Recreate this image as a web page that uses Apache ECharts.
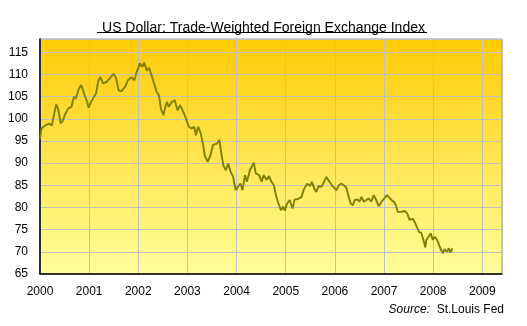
<!DOCTYPE html>
<html>
<head>
<meta charset="utf-8">
<script src="https://cdn.jsdelivr.net/npm/echarts@6/dist/echarts.min.js"></script>
<style>
  html, body { margin: 0; padding: 0; background: #fff; }
  #chart { width: 527px; height: 326px; }
</style>
</head>
<body>
<div id="chart"></div>
<script>
// decimal years
const years = [
  2000.00, 2000.03, 2000.06, 2000.12, 2000.18, 2000.24, 2000.28, 2000.33, 2000.37, 2000.42,
  2000.46, 2000.51, 2000.57, 2000.64, 2000.69, 2000.73, 2000.79, 2000.84, 2000.87, 2000.91,
  2000.96, 2000.99, 2001.04, 2001.10, 2001.14, 2001.19, 2001.23, 2001.28, 2001.35, 2001.42,
  2001.50, 2001.55, 2001.60, 2001.65, 2001.69, 2001.73, 2001.79, 2001.86, 2001.92, 2001.97,
  2002.03, 2002.08, 2002.12, 2002.17, 2002.22, 2002.27, 2002.32, 2002.37, 2002.42, 2002.46,
  2002.51, 2002.54, 2002.58, 2002.62, 2002.68, 2002.74, 2002.80, 2002.85, 2002.89, 2002.93,
  2002.98, 2003.03, 2003.08, 2003.14, 2003.17, 2003.22, 2003.27, 2003.32, 2003.35, 2003.41,
  2003.46, 2003.52, 2003.60, 2003.65, 2003.68, 2003.73, 2003.78, 2003.83, 2003.88, 2003.93,
  2003.98, 2004.03, 2004.08, 2004.12, 2004.17, 2004.21, 2004.27, 2004.31, 2004.35, 2004.39,
  2004.46, 2004.51, 2004.55, 2004.61, 2004.66, 2004.71, 2004.76, 2004.80, 2004.84, 2004.90,
  2004.95, 2004.98, 2005.03, 2005.08, 2005.14, 2005.18, 2005.25, 2005.32, 2005.37, 2005.44,
  2005.49, 2005.53, 2005.58, 2005.62, 2005.67, 2005.73, 2005.78, 2005.83, 2005.86, 2005.89,
  2005.94, 2005.98, 2006.03, 2006.08, 2006.13, 2006.18, 2006.23, 2006.28, 2006.32, 2006.37,
  2006.40, 2006.46, 2006.50, 2006.54, 2006.59, 2006.64, 2006.69, 2006.74, 2006.79, 2006.84,
  2006.89, 2006.95, 2007.00, 2007.06, 2007.10, 2007.15, 2007.20, 2007.24, 2007.28, 2007.35,
  2007.42, 2007.47, 2007.52, 2007.58, 2007.62, 2007.66, 2007.71, 2007.76, 2007.80, 2007.84,
  2007.86, 2007.91, 2007.95, 2007.99, 2008.03, 2008.08, 2008.12, 2008.16, 2008.20, 2008.23,
  2008.28, 2008.32, 2008.35, 2008.39
]

const index = [
  95.5, 97.8, 98.2, 98.6, 98.9, 98.5, 98.3, 103.3, 102.2, 99.0,
  99.5, 101.0, 102.3, 102.7, 105.0, 104.5, 106.8, 107.6, 107.2, 105.3,
  103.8, 102.5, 103.8, 105.0, 105.7, 108.7, 109.4, 108.0, 108.3, 109.1,
  110.2, 109.1, 106.4, 106.2, 106.4, 107.2, 108.7, 109.4, 108.7, 110.6,
  112.5, 111.7, 112.7, 110.9, 111.5, 109.8, 108.0, 106.1, 105.3, 102.3,
  100.8, 102.3, 103.8, 102.7, 103.8, 104.2, 101.9, 103.1, 103.1, 101.2,
  99.7, 98.2, 97.8, 98.2, 96.3, 98.2, 96.7, 94.1, 91.8, 90.3,
  91.5, 94.1, 94.4, 95.3, 92.9, 89.5, 88.4, 89.9, 88.0, 86.9,
  83.9, 84.7, 85.4, 83.9, 87.3, 85.8, 88.4, 88.8, 90.1, 87.7,
  87.3, 85.8, 87.3, 86.2, 87.1, 85.8, 85.0, 82.8, 81.3, 79.4,
  80.2, 79.3, 80.9, 81.7, 79.8, 81.8, 81.9, 82.4, 84.1, 85.4,
  84.8, 85.8, 84.3, 83.5, 84.8, 84.7, 85.8, 86.9, 87.1, 85.8,
  85.0, 84.7, 83.9, 85.0, 85.4, 85.0, 84.5, 82.4, 80.9, 80.5,
  81.7, 81.8, 81.3, 82.4, 81.3, 81.7, 82.0, 81.3, 82.8, 81.7,
  80.3, 81.3, 82.0, 82.8, 82.4, 81.7, 81.3, 80.5, 79.0, 79.0,
  79.2, 78.7, 77.2, 77.5, 76.8, 76.4, 74.5, 74.2, 72.7, 71.0,
  72.7, 73.4, 74.2, 72.7, 73.4, 72.7, 73.0, 70.4, 69.7, 70.6,
  70.0, 70.8, 69.8, 70.8
]

const yTicks = { min: 65, max: 118, step: 5 }
const xTicks = { min: 2000, max: 2009.4, step: 1 }

const chart = echarts.init(document.getElementById('chart'))

chart.setOption({
  animation: false,
  textStyle: { fontFamily: 'Liberation Sans, Arial, sans-serif' },
  title: {
    text: 'US Dollar: Trade-Weighted Foreign Exchange Index',
    left: 'center',
    top: 16,
    textStyle: { fontSize: 14, fontWeight: 'normal', color: '#000' }
  },
  graphic: [
    {
      type: 'line',
      shape: { x1: 97, y1: 32.5, x2: 427, y2: 32.5 },
      style: { stroke: '#000', lineWidth: 1 }
    },
    {
      type: 'text',
      right: 23,
      top: 304,
      style: {
        text: '{i|Source:}  St.Louis Fed',
        fontSize: 12,
        fill: '#000',
        fontFamily: 'Liberation Sans, Arial, sans-serif',
        rich: { i: { fontStyle: 'italic', fontSize: 12 } }
      }
    }
  ],
  grid: {
    left: 40,
    right: 25,
    top: 39,
    bottom: 52,
    show: true,
    borderColor: '#999',
    borderWidth: 1,
    backgroundColor: {
      type: 'linear', x: 0, y: 0, x2: 0, y2: 1,
      colorStops: [
        { offset: 0, color: '#FFCB05' },
        { offset: 1, color: '#FFFF9A' }
      ]
    }
  },
  xAxis: {
    type: 'value',
    min: xTicks.min,
    max: xTicks.max,
    interval: xTicks.step,
    axisLine: { lineStyle: { color: '#000', width: 1.5 } },
    axisTick: { show: false },
    axisLabel: { color: '#000', fontSize: 12, margin: 12, showMaxLabel: false, formatter: v => String(Math.round(v)) },
    splitLine: { show: true, lineStyle: { color: '#C0C0C0', width: 1 } }
  },
  yAxis: {
    type: 'value',
    min: yTicks.min,
    max: yTicks.max,
    interval: yTicks.step,
    axisLine: { show: true, lineStyle: { color: '#000', width: 1.5 } },
    axisTick: { show: false },
    axisLabel: { color: '#000', fontSize: 12, margin: 12, showMaxLabel: false },
    splitLine: { show: true, lineStyle: { color: '#C0C0C0', width: 1 } }
  },
  series: [{
    type: 'line',
    data: years.map((y, i) => [y, index[i]]),
    showSymbol: false,
    lineStyle: { color: '#7F7F00', width: 1.9 },
    z: 3
  }]
})
</script>
</body>
</html>
